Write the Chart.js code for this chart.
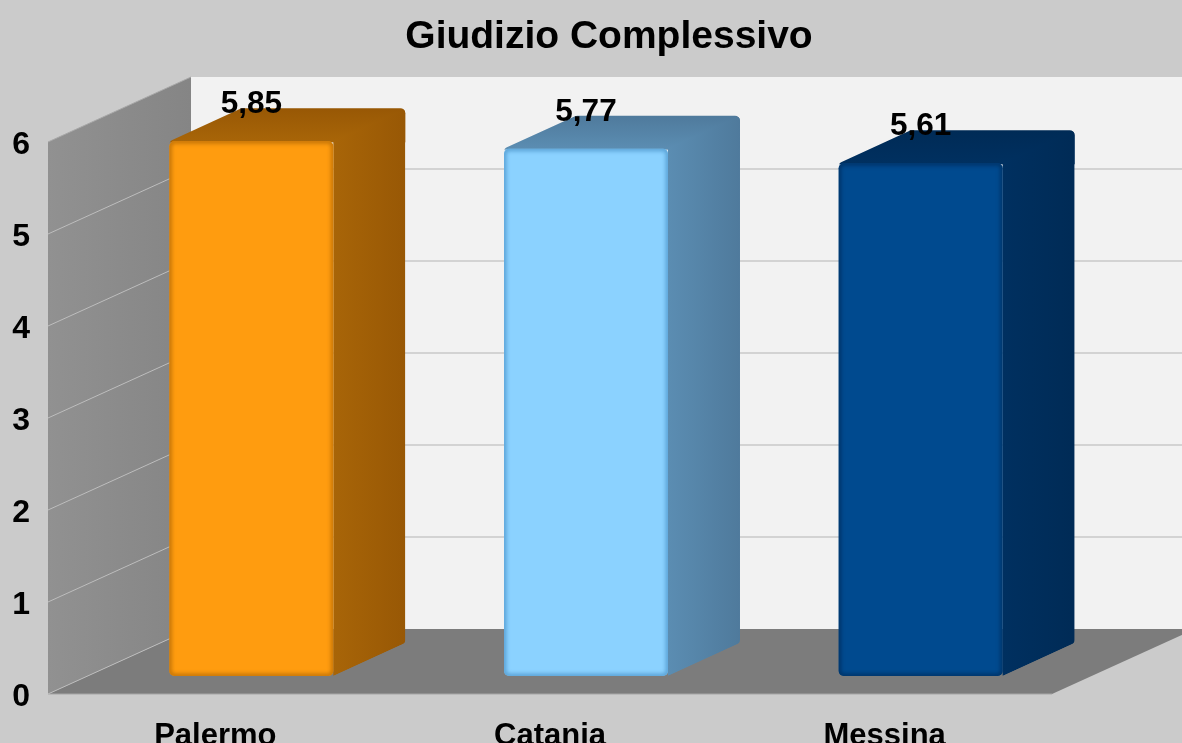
<!DOCTYPE html>
<html><head><meta charset="utf-8">
<style>html,body{margin:0;padding:0;width:1182px;height:743px;overflow:hidden;background:#cbcbcb}canvas{display:block}</style>
<script src="https://cdn.jsdelivr.net/npm/chart.js@4"></script>
</head><body>
<canvas id="c" width="1218" height="780" style="width:1218px;height:780px"></canvas>
<script>
const categories = ['Palermo', 'Catania', 'Messina'];
const values = [5.85, 5.77, 5.61];
const yTicks = [0, 1, 2, 3, 4, 5, 6];
const titleText = 'Giudizio Complessivo';
const frontColors = ['#ff9c0f', '#8bd2ff', '#004a8f'];
const bevelColors = ['#b86c06', '#4f97cc', '#002f60'];
const sideDark = ['#985805', '#4f7a9c', '#002b56'];
const sideLight = ['#a86508', '#5b8db2', '#003060'];
const FONT = '"Liberation Sans", Arial, sans-serif';
const SHIFT = 3; // tick labels sit this far below the wall lines
const WALL = {dx: 143, dy: 65};
const BAR = {offX: 36, offY: 18 + SHIFT, dx: 72, dy: 33, r: 5};

function roundPoly(ctx, pts, r) {
  ctx.beginPath();
  const n = pts.length;
  const a = pts[n - 1], b = pts[0];
  ctx.moveTo((a[0] + b[0]) / 2, (a[1] + b[1]) / 2);
  for (let i = 0; i < n; i++) {
    const p = pts[i], q = pts[(i + 1) % n];
    ctx.arcTo(p[0], p[1], (p[0] + q[0]) / 2, (p[1] + q[1]) / 2, r);
  }
  ctx.closePath();
}
function poly(ctx, pts) {
  ctx.beginPath();
  pts.forEach((p, i) => i ? ctx.lineTo(p[0], p[1]) : ctx.moveTo(p[0], p[1]));
  ctx.closePath();
}
const box3d = {
  id: 'box3d',
  beforeDraw(chart) {
    const {ctx, width, height, chartArea: a, scales: {y}} = chart;
    ctx.save();
    ctx.fillStyle = '#cbcbcb';
    ctx.fillRect(0, 0, width, height);
    const L = a.left, R = a.right, T = y.getPixelForValue(6) - SHIFT, B = y.getPixelForValue(0) - SHIFT;
    const {dx, dy} = WALL;
    ctx.fillStyle = '#f2f2f2';
    ctx.fillRect(L + dx, T - dy, R - L, B - T);
    let g = ctx.createLinearGradient(L, 0, L + dx, 0);
    g.addColorStop(0, '#919191'); g.addColorStop(1, '#858585');
    ctx.fillStyle = g;
    poly(ctx, [[L, T], [L + dx, T - dy], [L + dx, B - dy], [L, B]]);
    ctx.fill();
    ctx.strokeStyle = '#a8a8a8'; ctx.lineWidth = 1;
    ctx.beginPath(); ctx.moveTo(L, T); ctx.lineTo(L + dx, T - dy); ctx.stroke();
    ctx.fillStyle = '#7c7c7c';
    poly(ctx, [[L, B], [R, B], [R + dx, B - dy], [L + dx, B - dy]]);
    ctx.fill();
    ctx.strokeStyle = '#a6a6a6'; ctx.lineWidth = 1;
    ctx.beginPath(); ctx.moveTo(L, B); ctx.lineTo(R, B); ctx.stroke();
    y.ticks.forEach(t => {
      const p = y.getPixelForValue(t.value) - SHIFT;
      if (t.value > 0 && t.value < 6) {
        ctx.strokeStyle = '#c9c9c9'; ctx.lineWidth = 1.5;
        ctx.beginPath(); ctx.moveTo(L + dx, p - dy); ctx.lineTo(R + dx, p - dy); ctx.stroke();
      }
      if (t.value < 6) {
        ctx.strokeStyle = '#bdbdbd'; ctx.lineWidth = 1;
        ctx.beginPath(); ctx.moveTo(L, p); ctx.lineTo(L + dx, p - dy); ctx.stroke();
      }
    });
    ctx.restore();
  },
  beforeDatasetsDraw(chart) {
    const {ctx} = chart;
    const els = chart.getDatasetMeta(0).data;
    const {offX, offY, dx, dy, r} = BAR;
    els.forEach((el, i) => {
      const x0 = el.x - el.width / 2 + offX, x1 = el.x + el.width / 2 + offX;
      const top = el.y - offY, base = el.base - offY;
      ctx.save();
      roundPoly(ctx, [[x0, top], [x0 + dx, top - dy], [x1 + dx, top - dy], [x1 + dx, base - dy], [x1, base], [x0, base]], r);
      ctx.clip();
      let g = ctx.createLinearGradient(0, top - dy, 0, top);
      g.addColorStop(0, sideDark[i]); g.addColorStop(1, sideLight[i]);
      ctx.fillStyle = g;
      ctx.fillRect(x0 - 1, top - dy - 1, x1 + dx - x0 + 2, dy + 2);
      g = ctx.createLinearGradient(x1, 0, x1 + dx, 0);
      g.addColorStop(0, sideLight[i]); g.addColorStop(1, sideDark[i]);
      ctx.fillStyle = g;
      poly(ctx, [[x1, top], [x1 + dx, top - dy], [x1 + dx, base - dy], [x1, base]]);
      ctx.fill();
      ctx.restore();
    });
    ctx.save();
    ctx.translate(offX, -offY);
  },
  afterDatasetsDraw(chart) {
    const {ctx} = chart;
    const els = chart.getDatasetMeta(0).data;
    els.forEach((el, i) => {
      const x0 = el.x - el.width / 2, w = el.width, h = el.base - el.y;
      ctx.save();
      ctx.beginPath(); ctx.roundRect(x0, el.y, w, h, BAR.r); ctx.clip();
      ctx.filter = 'blur(2px)';
      ctx.strokeStyle = bevelColors[i]; ctx.lineWidth = 4;
      ctx.beginPath(); ctx.roundRect(x0, el.y, w, h, BAR.r); ctx.stroke();
      ctx.restore();
    });
    ctx.restore();
    ctx.save();
    ctx.font = 'bold 31.5px ' + FONT;
    ctx.fillStyle = '#000';
    ctx.textAlign = 'center';
    ctx.textBaseline = 'alphabetic';
    els.forEach((el, i) => {
      ctx.fillText(values[i].toFixed(2).replace('.', ','), el.x + BAR.offX, el.y - BAR.offY - 28);
    });
    ctx.restore();
  }
};
new Chart(document.getElementById('c'), {
  type: 'bar',
  data: {labels: categories, datasets: [{
    data: values, yAxisID: 'y1',
    backgroundColor: frontColors,
    borderWidth: 0, borderRadius: BAR.r, borderSkipped: false,
    categoryPercentage: 1, barPercentage: 0.49
  }]},
  options: {
    responsive: false, animation: false,
    layout: {padding: 0},
    plugins: {
      legend: {display: false}, tooltip: {enabled: false},
      title: {display: true, text: titleText, color: '#000',
        font: {family: FONT, size: 39, weight: 'bold'},
        padding: {top: 14, bottom: 84.2}}
    },
    scales: {
      x: {grid: {display: false}, border: {display: false},
        afterFit: s => { s.height = 83; },
        ticks: {color: '#000', font: {family: FONT, size: 31, weight: 'bold'}, padding: 13, maxRotation: 0}},
      y: {min: 0, max: 6, afterFit: s => { s.width = 48; },
        grid: {display: false}, border: {display: false},
        afterBuildTicks: s => { s.ticks = yTicks.map(v => ({value: v})); },
        ticks: {color: '#000', font: {family: FONT, size: 32, weight: 'bold'}, padding: 10}},
      y1: {display: false, min: 0, max: 6.04},
      yRight: {position: 'right', min: 0, max: 6, afterFit: s => { s.width = 166; },
        grid: {display: false}, border: {display: false}, ticks: {display: false}}
    }
  },
  plugins: [box3d]
});
</script>
</body></html>
